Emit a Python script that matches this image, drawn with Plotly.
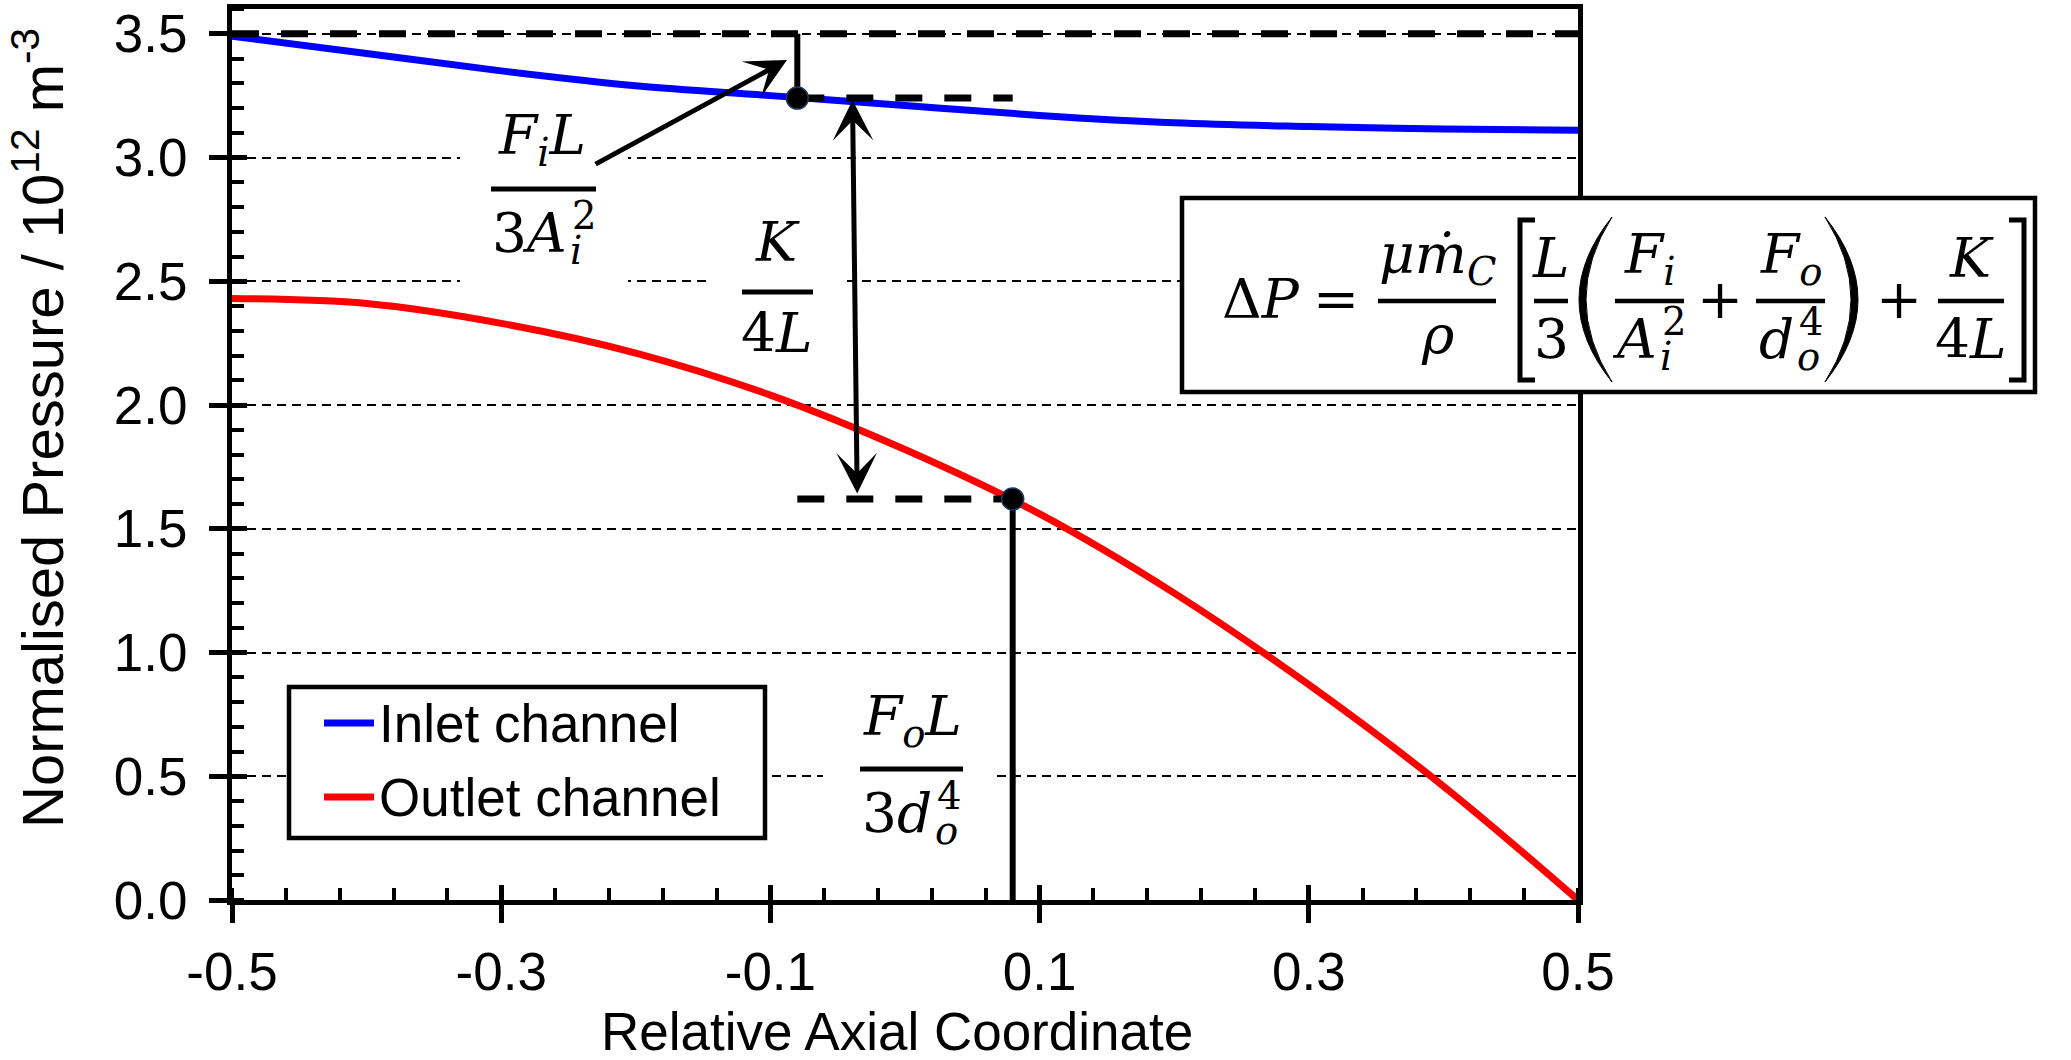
import plotly.graph_objects as go

# ---------------- data ----------------
x_coord = [-0.5, -0.4, -0.3, -0.2, -0.1, 0.0, 0.1, 0.2, 0.3, 0.4, 0.5]
inlet_p = [3.49, 3.42, 3.35, 3.29, 3.25, 3.21, 3.17, 3.14, 3.125, 3.115, 3.11]
outlet_p = [2.43, 2.41, 2.33, 2.21, 2.04, 1.82, 1.56, 1.24, 0.87, 0.46, 0.0]

series_names = ["Inlet channel", "Outlet channel"]
series_colors = ["#0000FF", "#FF0000"]

marker_x = [-0.08, 0.08]      # points on inlet / outlet curves
marker_y = [3.24, 1.62]
ref_level = [3.5]             # inlet pressure at x = -0.5
x_span = [-0.5, 0.5]
y_span = [0.0, 3.6]

x_tickvals = [-0.5, -0.3, -0.1, 0.1, 0.3, 0.5]
x_ticktext = ["-0.5", "-0.3", "-0.1", "0.1", "0.3", "0.5"]
y_tickvals = [0.0, 0.5, 1.0, 1.5, 2.0, 2.5, 3.0, 3.5]
y_ticktext = ["0.0", "0.5", "1.0", "1.5", "2.0", "2.5", "3.0", "3.5"]

# arrow annotations (data coordinates: tip, tail)
arrow_fi = dict(x=-0.0877, y=3.394, ax=-0.231, ay=2.970)
arrow_k = dict(x=-0.0390, y=3.232, ax=-0.0355, ay=1.636)

# ---------------- layout geometry ----------------
W_FIG, H_FIG = 2071, 1060
ML, MR, MT, MB = 232, 493, 9, 160
PW = W_FIG - ML - MR
PH = H_FIG - MT - MB


def px(X):
    return (X - ML) / PW


def py(Y):
    return (MT + PH - Y) / PH


SANS = "Liberation Sans, Arial, sans-serif"
MATH = "DejaVu Serif, Cambria, serif"
MS = 55          # math font size

fig = go.Figure()

for name, col, vals in zip(series_names, series_colors, [inlet_p, outlet_p]):
    fig.add_trace(go.Scatter(x=x_coord, y=vals, mode="lines", name=name,
                             line=dict(color=col, width=7, shape="spline"),
                             hoverinfo="skip", showlegend=False))

# thick dashed reference line at inlet start pressure
fig.add_trace(go.Scatter(x=x_span, y=ref_level * 2, mode="lines", showlegend=False,
                         line=dict(color="black", width=7, dash="27px,22px"),
                         hoverinfo="skip"))
# horizontal dashed lines through the two points
for yv in marker_y:
    fig.add_trace(go.Scatter(x=marker_x, y=[yv, yv], mode="lines", showlegend=False,
                             line=dict(color="black", width=7, dash="27px,22px"),
                             hoverinfo="skip"))
# vertical connectors
fig.add_trace(go.Scatter(x=[marker_x[0], marker_x[0]], y=[marker_y[0], ref_level[0]],
                         mode="lines", showlegend=False,
                         line=dict(color="black", width=6), hoverinfo="skip"))
fig.add_trace(go.Scatter(x=[marker_x[1], marker_x[1]], y=[marker_y[1], y_span[0]],
                         mode="lines", showlegend=False,
                         line=dict(color="black", width=6), hoverinfo="skip"))
# points
fig.add_trace(go.Scatter(x=marker_x, y=marker_y, mode="markers", showlegend=False,
                         marker=dict(size=22, color="black",
                                     line=dict(color="#1F3864", width=1.5)),
                         hoverinfo="skip"))
# empty trace so the overlay axes (inside half of the major ticks) are drawn
fig.add_trace(go.Scatter(x=[None], y=[None], xaxis="x2", yaxis="y2",
                         showlegend=False, hoverinfo="skip"))

axis_common = dict(showline=True, linewidth=5, linecolor="black", mirror=True,
                   zeroline=False, tickcolor="black", tickwidth=4.5,
                   tickfont=dict(family=SANS, size=53, color="black"))

fig.update_layout(
    width=W_FIG, height=H_FIG,
    margin=dict(l=ML, r=MR, t=MT, b=MB, autoexpand=False),
    paper_bgcolor="white", plot_bgcolor="white",
    showlegend=False,
    xaxis=dict(range=x_span, tickmode="array", tickvals=x_tickvals, ticktext=x_ticktext,
               ticks="outside", ticklen=18, showgrid=False, ticklabelstandoff=3,
               minor=dict(ticks="inside", ticklen=12, tickwidth=4, tickcolor="black",
                          tickmode="linear", tick0=-0.5, dtick=0.04, showgrid=False),
               **axis_common),
    yaxis=dict(range=y_span, tickmode="array", tickvals=y_tickvals, ticktext=y_ticktext,
               ticks="outside", ticklen=18, showgrid=True, gridcolor="black",
               gridwidth=2, griddash="9px,6px", ticklabelstandoff=11,
               minor=dict(ticks="inside", ticklen=12, tickwidth=4, tickcolor="black",
                          tickmode="linear", tick0=0, dtick=0.1, showgrid=False),
               **axis_common),
    xaxis2=dict(range=x_span, overlaying="x", anchor="y", side="bottom",
                tickmode="array", tickvals=x_tickvals, ticks="inside", ticklen=15,
                tickwidth=4.5, tickcolor="black", showticklabels=False,
                showline=False, showgrid=False, zeroline=False),
    yaxis2=dict(range=y_span, overlaying="y", anchor="x", side="left",
                tickmode="array", tickvals=y_tickvals, ticks="inside", ticklen=15,
                tickwidth=4.5, tickcolor="black", showticklabels=False,
                showline=False, showgrid=False, zeroline=False),
)

shapes = []
annotations = []


def rect(x0, y0, x1, y1, fill="white", lw=0, lc="black"):
    shapes.append(dict(type="rect", xref="paper", yref="paper", layer="above",
                       x0=px(x0), x1=px(x1), y0=py(y1), y1=py(y0),
                       fillcolor=fill, line=dict(width=lw, color=lc)))


def hline(x0, x1, y, lw=5, color="black"):
    shapes.append(dict(type="line", xref="paper", yref="paper", layer="above",
                       x0=px(x0), x1=px(x1), y0=py(y), y1=py(y),
                       line=dict(width=lw, color=color)))


def path(d, fill=None, lw=5):
    s = dict(type="path", xref="paper", yref="paper", layer="above", path=d,
             line=dict(width=lw, color="black"))
    if fill:
        s["fillcolor"] = fill
    shapes.append(s)


def P(X, Y):
    return f"{px(X):.5f},{py(Y):.5f}"


def text(t, X, Y, size=MS, family=MATH, xanchor="center"):
    annotations.append(dict(text=t, xref="paper", yref="paper", x=px(X), y=py(Y),
                            xanchor=xanchor, yanchor="middle", showarrow=False,
                            borderpad=0,
                            font=dict(family=family, size=size, color="black")))


def stacked(base, sub, sup, x_right, yc, size=MS):
    """base text ending at x_right with subscript and superscript stacked after it"""
    text(base, x_right, yc, size=size, xanchor="right")
    yb = yc + 0.346 * size
    ss = 0.7 * size
    text("<i>" + sub + "</i>", x_right + 1, yb + 0.21 * size - 0.346 * ss, size=ss,
         xanchor="left")
    text(sup, x_right + 3, yb - 0.42 * size - 0.346 * ss, size=ss, xanchor="left")


# white backgrounds behind the in-plot labels (they hide the grid lines)
rect(460, 110, 628, 292)
rect(710, 200, 847, 345)
rect(823, 690, 997, 860)

# in-plot fraction labels
hline(491, 596, 189)
text("<i>F<sub>i</sub>L</i>", 542, 139)
stacked("3<i>A</i>", "i", "2", 568, 233)
hline(742, 813, 292)
text("<i>K</i>", 777, 242)
text("4<i>L</i>", 777, 333)
hline(860, 963, 769)
text("<i>F<sub>o</sub>L</i>", 912, 720)
stacked("3<i>d</i>", "o", "4", 933, 813)

# equation box
rect(1182, 198, 2035, 392, fill="white", lw=4.5)
BAR_Y = 301
NUM_Y = 258
DEN_Y = 339
text("Δ<i>P</i>", 1261, 299)
text("=", 1336, 299)
hline(1378, 1496, BAR_Y, 4.5)
text("<i>μṁ<sub>C</sub></i>", 1437, NUM_Y)
text("<i>ρ</i>", 1437, DEN_Y - 4)
# [
path("M" + P(1535, 220) + " L" + P(1520, 220) + " L" + P(1520, 380) + " L" + P(1535, 380))
hline(1534, 1568, BAR_Y, 4.5)
text("<i>L</i>", 1551, NUM_Y)
text("3", 1551, DEN_Y)
# (
path("M" + P(1612, 217) + " Q" + P(1546, 299.5) + " " + P(1612, 382)
     + " Q" + P(1560, 299.5) + " " + P(1612, 217) + " Z", fill="black", lw=1)
hline(1615, 1684, BAR_Y, 4.5)
text("<i>F<sub>i</sub></i>", 1650, NUM_Y)
stacked("<i>A</i>", "i", "2", 1658, DEN_Y)
text("+", 1720, 299)
hline(1756, 1825, BAR_Y, 4.5)
text("<i>F<sub>o</sub></i>", 1791, NUM_Y)
stacked("<i>d</i>", "o", "4", 1795, DEN_Y)
# )
path("M" + P(1825, 217) + " Q" + P(1891, 299.5) + " " + P(1825, 382)
     + " Q" + P(1877, 299.5) + " " + P(1825, 217) + " Z", fill="black", lw=1)
text("+", 1899, 299)
hline(1938, 2004, BAR_Y, 4.5)
text("<i>K</i>", 1971, NUM_Y)
text("4<i>L</i>", 1971, DEN_Y)
# ]
path("M" + P(2009, 220) + " L" + P(2024, 220) + " L" + P(2024, 380) + " L" + P(2009, 380))

# legend (box, line samples, names)
rect(289, 687, 765, 838, fill="white", lw=4.5)
legend_rows = [723, 797]
for name, col, yr in zip(series_names, series_colors, legend_rows):
    hline(324, 374, yr, lw=7, color=col)
    text(name, 378, yr, size=53, family=SANS, xanchor="left")

# axis titles
text("Relative Axial Coordinate", 897, 1031, size=53, family=SANS)
annotations.append(dict(text="Normalised Pressure / 10<sup>12</sup> m<sup>-3</sup>",
                        xref="paper", yref="paper", x=px(38), y=py(428),
                        xanchor="center", yanchor="middle", showarrow=False, textangle=-90,
                        font=dict(family=SANS, size=58, color="black")))

# arrows
annotations.append(dict(text="", xref="x", yref="y", axref="x", ayref="y",
                        showarrow=True, arrowhead=3, arrowsize=1.35, arrowwidth=5,
                        arrowcolor="black", standoff=0, **arrow_fi))
annotations.append(dict(text="", xref="x", yref="y", axref="x", ayref="y",
                        showarrow=True, arrowhead=3, arrowsize=1.35, arrowwidth=5,
                        arrowside="end+start", startarrowhead=3, startarrowsize=1.35,
                        arrowcolor="black", standoff=0, startstandoff=0, **arrow_k))

fig.update_layout(shapes=shapes, annotations=annotations)

fig.write_html("out.html")
